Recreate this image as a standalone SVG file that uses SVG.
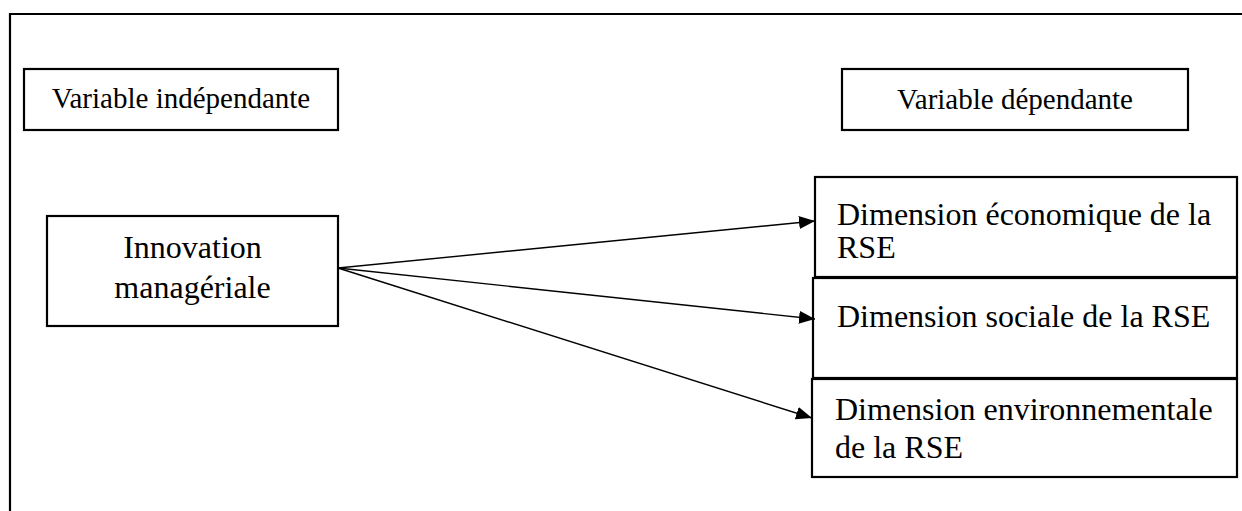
<svg xmlns="http://www.w3.org/2000/svg" width="1242" height="511" viewBox="0 0 1242 511">
<style>
.box{fill:#fff;stroke:#000;stroke-width:2.2}
.t{font-family:"Liberation Serif","Times New Roman",serif;fill:#000}
.s29{font-size:29px}
.s32{font-size:32px}
.c{fill:none;stroke:#000;stroke-width:1.4}
</style>
<defs>
<marker id="ah" markerWidth="16" markerHeight="13" refX="16" refY="6.5" orient="auto" markerUnits="userSpaceOnUse">
<path d="M0,0 L16,6.5 L0,13 Z" fill="#000"/>
</marker>
</defs>
<rect width="1242" height="511" fill="#fff"/>
<path d="M10,511 V14 H1242" fill="none" stroke="#000" stroke-width="2.2"/>
<g id="var-indep">
<rect class="box" x="24" y="69" width="314" height="61"/>
<text class="t s29" x="181" y="108" text-anchor="middle">Variable indépendante</text>
</g>
<g id="var-dep">
<rect class="box" x="842" y="69" width="346" height="61"/>
<text class="t s29" x="1015" y="109" text-anchor="middle">Variable dépendante</text>
</g>
<g id="innovation">
<rect class="box" x="47" y="216" width="291" height="110"/>
<text class="t s32" x="192.5" y="258" text-anchor="middle">Innovation</text>
<text class="t s32" x="192.5" y="298" text-anchor="middle">managériale</text>
</g>
<g id="dim-eco">
<rect class="box" x="815" y="177" width="422" height="100"/>
<text class="t s32" x="837" y="225">Dimension économique de la</text>
<text class="t s32" x="837" y="258">RSE</text>
</g>
<g id="dim-soc">
<rect class="box" x="813" y="278" width="424" height="100"/>
<text class="t s32" x="837" y="327">Dimension sociale de la RSE</text>
</g>
<g id="dim-env">
<rect class="box" x="812" y="379" width="425" height="98"/>
<text class="t s32" x="835" y="420">Dimension environnementale</text>
<text class="t s32" x="835" y="458">de la RSE</text>
</g>
<g id="connectors">
<line class="c" x1="338" y1="268" x2="815" y2="221" marker-end="url(#ah)"/>
<line class="c" x1="338" y1="268" x2="815" y2="319" marker-end="url(#ah)"/>
<line class="c" x1="338" y1="268" x2="812" y2="418" marker-end="url(#ah)"/>
</g>
</svg>
